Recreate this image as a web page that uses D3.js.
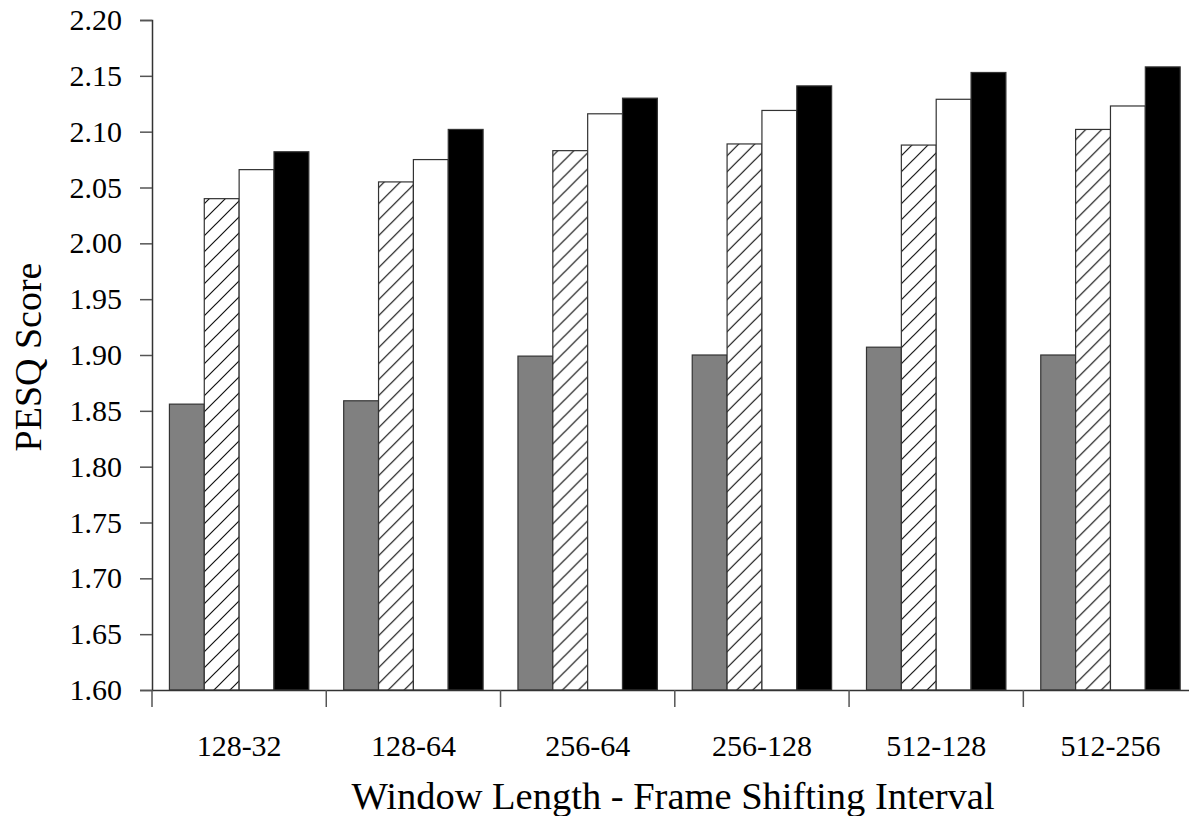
<!DOCTYPE html>
<html>
<head>
<meta charset="utf-8">
<script src="https://cdn.jsdelivr.net/npm/d3@7"></script>
<style>
  html, body { margin: 0; padding: 0; background: #fff; }
  svg { display: block; font-family: "Liberation Serif", "Times New Roman", serif; }
</style>
</head>
<body>
<svg id="chart" width="1189" height="816"></svg>
<script>
// Window length - frame shifting interval settings
const categories = ["128-32", "128-64", "256-64", "256-128", "512-128", "512-256"];
// Four methods, one value per setting
const seriesGray  = [1.856, 1.859, 1.899, 1.900, 1.907, 1.900];
const seriesHatch = [2.040, 2.055, 2.083, 2.089, 2.088, 2.102];
const seriesWhite = [2.066, 2.075, 2.116, 2.119, 2.129, 2.123];
const seriesBlack = [2.082, 2.102, 2.130, 2.141, 2.153, 2.158];
const seriesKeys = ["gray", "hatch", "white", "black"];
const yTicks = [1.60, 1.65, 1.70, 1.75, 1.80, 1.85, 1.90, 1.95, 2.00, 2.05, 2.10, 2.15, 2.20];

const table = categories.map((c, i) => ({
  cat: c,
  values: { gray: seriesGray[i], hatch: seriesHatch[i], white: seriesWhite[i], black: seriesBlack[i] }
}));

const svg = d3.select("#chart");
const plotLeft = 152, plotTop = 20, plotBottom = 690, plotRight = 1197.6;

const defs = svg.append("defs");
const pat = defs.append("pattern")
  .attr("id", "hatch")
  .attr("patternUnits", "userSpaceOnUse")
  .attr("width", 16).attr("height", 16);
pat.append("rect").attr("width", 16).attr("height", 16).attr("fill", "#fff");
pat.append("path")
  .attr("d", "M-4,4 L4,-4 M0,16 L16,0 M12,20 L20,12")
  .attr("stroke", "#111").attr("stroke-width", 1.2);

const fills = { gray: "#808080", hatch: "url(#hatch)", white: "#fff", black: "#000" };

const x0 = d3.scaleBand().domain(categories).range([plotLeft, plotRight]).padding(0);
const x1 = d3.scaleBand().domain(seriesKeys).range([0, x0.bandwidth()]).paddingInner(0).paddingOuter(0.5);
const y = d3.scaleLinear().domain([1.6, 2.2]).range([plotBottom, plotTop]);

// bars
const groups = svg.append("g").selectAll("g")
  .data(table).join("g")
  .attr("transform", d => `translate(${x0(d.cat)},0)`);
groups.selectAll("rect")
  .data(d => seriesKeys.map(k => ({ key: k, value: d.values[k] })))
  .join("rect")
  .attr("x", d => x1(d.key))
  .attr("width", x1.bandwidth())
  .attr("y", d => y(d.value))
  .attr("height", d => y(1.6) - y(d.value))
  .attr("fill", d => fills[d.key])
  .attr("stroke", "#333")
  .attr("stroke-width", 1.2);

// y axis
const yAxis = d3.axisLeft(y).tickValues(yTicks).tickFormat(d3.format(".2f")).tickSize(12).tickPadding(18);
const gy = svg.append("g").attr("transform", `translate(${plotLeft},0)`).call(yAxis);
gy.select(".domain").attr("stroke", "#333").attr("stroke-width", 1.5);
gy.selectAll(".tick line").attr("stroke", "#555").attr("stroke-width", 1.5);
gy.selectAll(".tick text").attr("font-size", 30).attr("fill", "#000")
  .attr("font-family", "Liberation Serif, serif");

// x axis
const xAxis = d3.axisBottom(x0).tickSize(0).tickPadding(45);
const gx = svg.append("g").attr("transform", `translate(0,${plotBottom})`).call(xAxis);
gx.select(".domain").attr("stroke", "#333").attr("stroke-width", 1.5);
gx.selectAll(".tick text").attr("font-size", 30).attr("fill", "#000")
  .attr("font-family", "Liberation Serif, serif");
// separators between categories
gx.selectAll(".sep")
  .data(categories).join("line")
  .attr("class", "sep")
  .attr("x1", d => x0(d)).attr("x2", d => x0(d))
  .attr("y1", 0).attr("y2", 17)
  .attr("stroke", "#555").attr("stroke-width", 1.5);

// axis titles
svg.append("text")
  .attr("x", 673).attr("y", 809)
  .attr("text-anchor", "middle")
  .attr("font-size", 38.5)
  .text("Window Length - Frame Shifting Interval");
svg.append("text")
  .attr("transform", "translate(41,357) rotate(-90)")
  .attr("text-anchor", "middle")
  .attr("font-size", 38)
  .text("PESQ Score");
</script>
</body>
</html>
